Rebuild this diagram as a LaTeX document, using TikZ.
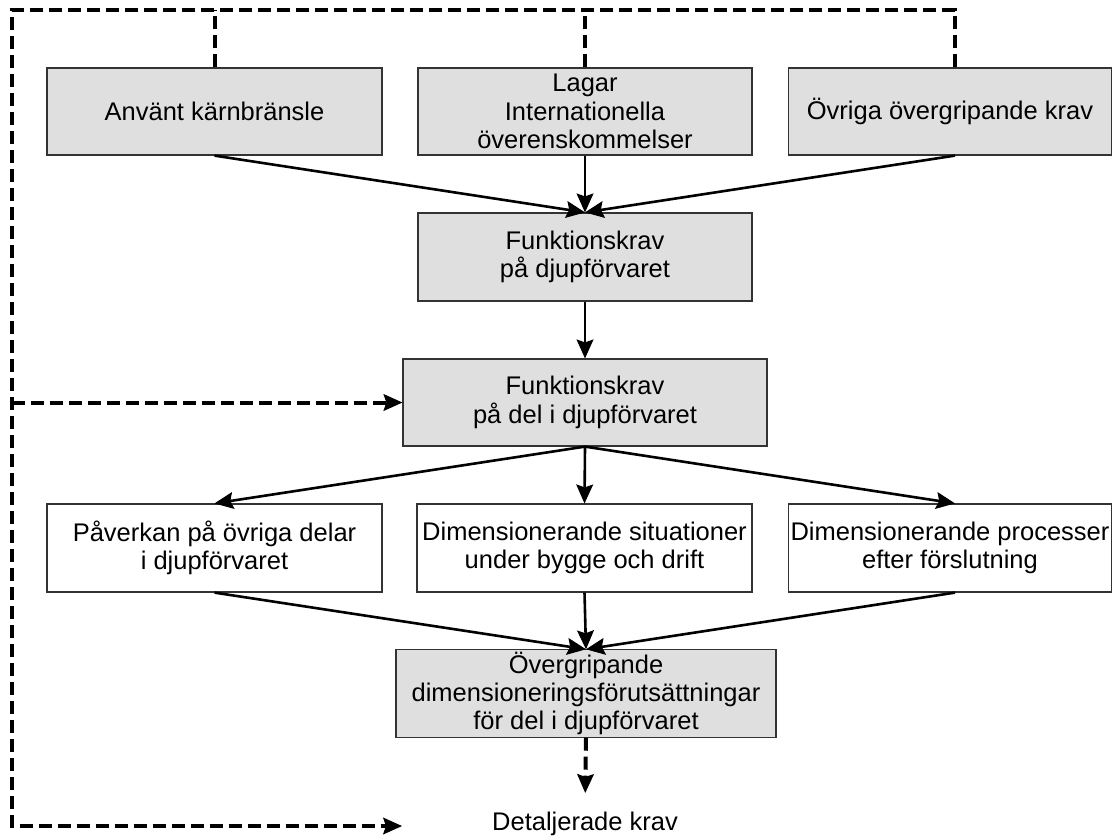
\documentclass[tikz,border=0pt]{standalone}
\usepackage{fontspec}
\setmainfont{Liberation Sans}
\usetikzlibrary{arrows.meta}
\begin{document}
\begin{tikzpicture}[x=1pt,y=-1pt,
  box/.style={draw=black!80, line width=1.2pt, minimum height=87pt,
    inner xsep=0pt, inner ysep=2pt, align=center,
    font=\fontsize{25.5}{28.3}\selectfont},
  greybox/.style={box, fill=gray!25},
  whitebox/.style={box, fill=white},
  flow/.style={line width=2.6pt,
    -{Stealth[length=19pt,width=17pt,inset=3pt,line width=1pt]}},
  feedback/.style={line width=4pt, dash pattern=on 13pt off 6pt},
  feedtip/.style={feedback,
    -{Stealth[length=19pt,width=17pt,inset=3pt,line width=1pt]}},
]
\useasboundingbox (0,0) rectangle (1113,836);

% top row: inputs
\node[greybox, minimum width=335pt] (A) at (214.5,111.5) {Använt kärnbränsle};
\node[greybox, minimum width=334pt] (B) at (585,111.5) {Lagar\\Internationella\\överenskommelser};
\node[greybox, minimum width=323.5pt] (C) at (950,111.5) {Övriga övergripande krav};

% central chain
\node[greybox, minimum width=334pt, minimum height=88pt] (D) at (585,257) {Funktionskrav\\på djupförvaret};
\node[greybox, minimum width=364pt] (E) at (585,402.5) {Funktionskrav\\på del i djupförvaret};

% third row
\node[whitebox, minimum width=335pt, minimum height=88pt] (F) at (214.5,548) {Påverkan på övriga delar\\i djupförvaret};
\node[whitebox, minimum width=335pt, minimum height=88pt] (G) at (584.5,548) {Dimensionerande situationer\\under bygge och drift};
\node[whitebox, minimum width=323.5pt, minimum height=88pt] (H) at (950,548) {Dimensionerande processer\\efter förslutning};

% result
\node[greybox, minimum width=380pt] (I) at (586,693.5) {Övergripande\\dimensioneringsförutsättningar\\för del i djupförvaret};
\node[inner sep=0pt, font=\fontsize{25.5}{28.3}\selectfont] (J) at (585,824) {Detaljerade krav};

% solid flow arrows
\draw[flow] (A.south) -- (D.north);
\draw[flow] (B.south) -- (D.north);
\draw[flow] ([xshift=5pt]C.south) -- (D.north);
\draw[flow] (D.south) -- (E.north);
\draw[flow] (E.south) -- (F.north);
\draw[flow] (E.south) -- (G.north);
\draw[flow] (E.south) -- ([xshift=5pt]H.north);
\draw[flow] (F.south) -- (I.north);
\draw[flow] (G.south) -- (I.north);
\draw[flow] ([xshift=5pt]H.south) -- (I.north);

% dashed feedback loop
\coordinate (tl) at (12,10);
\coordinate (bl) at (12,826);
\coordinate (dend) at (402,826);
\draw[feedtip] ([xshift=5pt]C.north) |- (tl) -- (bl) -- (dend);
\draw[feedback] (A.north) -- (A.north |- tl);
\draw[feedback] (B.north) -- (B.north |- tl);
\draw[feedtip] (tl |- E.west) -- (E.west);
\draw[feedtip, shorten >=19pt] (I.south) -- (J.north);
\end{tikzpicture}
\end{document}
